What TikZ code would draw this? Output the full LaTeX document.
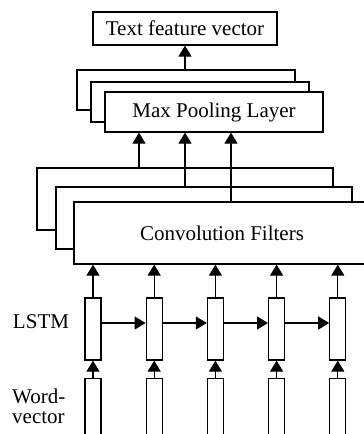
\documentclass[tikz,border=0pt]{standalone}
\usepackage{fontspec}
\setmainfont{Liberation Serif}
\usetikzlibrary{positioning,arrows.meta}
\tikzset{layer/.style={draw,fill=white,line width=1.2pt,inner sep=0pt},
  cell/.style={draw,fill=white,line width=1.2pt,inner sep=0pt,minimum width=16pt,minimum height=62pt},
  flow/.style={-{Triangle[width=13pt,length=11pt]},line width=1.2pt}}

\begin{document}
\begin{tikzpicture}[x=1pt,y=-1pt,node distance=44pt,font=\fontsize{21}{20}\selectfont]
\useasboundingbox (0,0) rectangle (364,434);

\node[layer,minimum width=184pt,minimum height=33pt] (text) at (185,28.5) {Text feature vector};

\node[layer,minimum width=218pt,minimum height=40pt] (pool3) at (186,90) {};
\node[layer,minimum width=218pt,minimum height=40pt] (pool2) at (200,102) {};
\node[layer,minimum width=218pt,minimum height=40pt] (pool1) at (214,112) {Max Pooling Layer};

\node[layer,minimum width=296pt,minimum height=62pt] (conv3) at (185,199) {};
\node[layer,minimum width=296pt,minimum height=62pt] (conv2) at (204,218) {};
\node[layer,minimum width=296pt,minimum height=62pt] (conv1) at (222,233) {Convolution Filters};

\node[cell] (l1) at (93,329) {};
\node[cell] (l2) [right=of l1] {};
\node[cell] (l3) [right=of l2] {};
\node[cell] (l4) [right=of l3] {};
\node[cell] (l5) [right=of l4] {};

\node[cell,minimum height=70pt] (w1) [below=17pt of l1] {};
\node[cell,minimum height=70pt] (w2) [below=17pt of l2] {};
\node[cell,minimum height=70pt] (w3) [below=17pt of l3] {};
\node[cell,minimum height=70pt] (w4) [below=17pt of l4] {};
\node[cell,minimum height=70pt] (w5) [below=17pt of l5] {};

\node[inner sep=0pt] (lstm) at (41,322) {LSTM};
\node[inner sep=0pt,align=left,anchor=west] (word) at (12,406) {Word-\\vector};

% pooling to output
\draw[flow] (text.south |- pool3.north) -- (text.south);
% filters to pooling
\draw[flow] ([xshift=-46pt]conv3.north) -- ([xshift=-46pt]conv3.north |- pool1.south);
\draw[flow] ([xshift=-19pt]conv2.north) -- ([xshift=-19pt]conv2.north |- pool1.south);
\draw[flow] ([xshift=9pt]conv1.north) -- ([xshift=9pt]conv1.north |- pool1.south);

\draw[flow] (l1.north) -- (l1.north |- conv1.south);
\draw[flow] (l2.north) -- (l2.north |- conv1.south);
\draw[flow] (l3.north) -- (l3.north |- conv1.south);
\draw[flow] (l4.north) -- (l4.north |- conv1.south);
\draw[flow] (l5.north) -- (l5.north |- conv1.south);

\draw[flow] ([yshift=6pt]l1.east) -- ([yshift=6pt]l2.west);
\draw[flow] ([yshift=6pt]l2.east) -- ([yshift=6pt]l3.west);
\draw[flow] ([yshift=6pt]l3.east) -- ([yshift=6pt]l4.west);
\draw[flow] ([yshift=6pt]l4.east) -- ([yshift=6pt]l5.west);

\draw[flow] (w1) -- (l1);
\draw[flow] (w2) -- (l2);
\draw[flow] (w3) -- (l3);
\draw[flow] (w4) -- (l4);
\draw[flow] (w5) -- (l5);

\end{tikzpicture}
\end{document}
